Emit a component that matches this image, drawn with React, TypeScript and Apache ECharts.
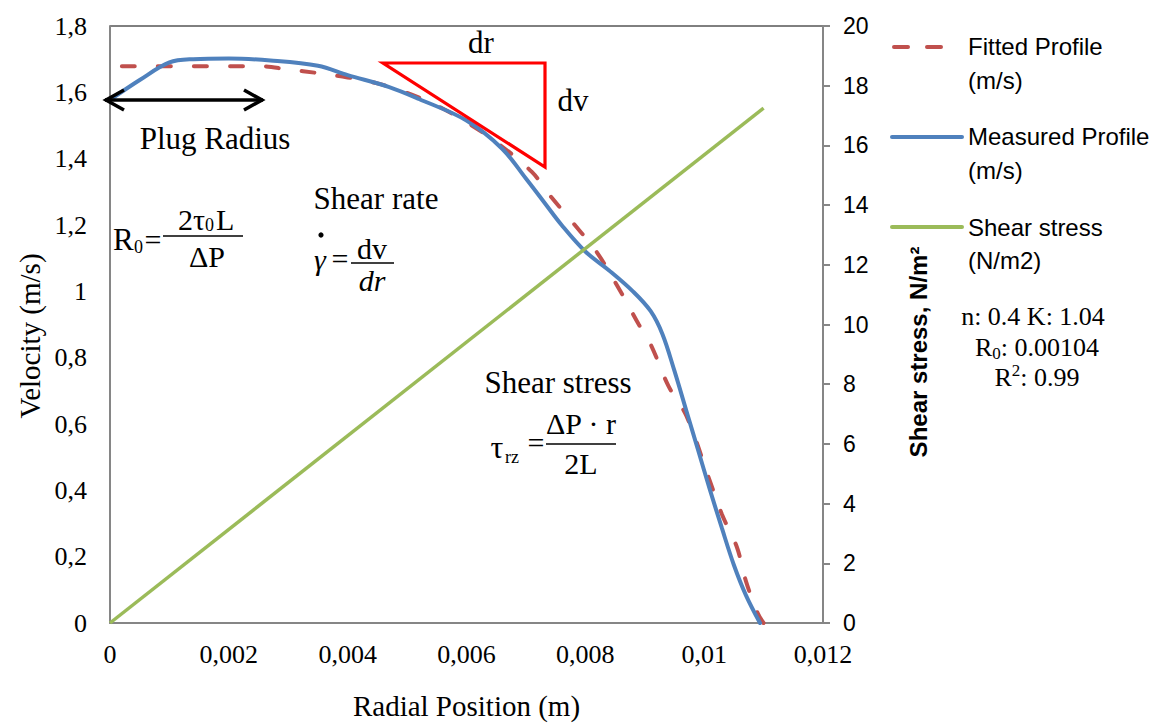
import React, { useEffect, useRef } from "react";
import * as echarts from "echarts";

// ---------- data ----------
const xTickLabels = ["0", "0,002", "0,004", "0,006", "0,008", "0,01", "0,012"];
const velTickLabels = ["0", "0,2", "0,4", "0,6", "0,8", "1", "1,2", "1,4", "1,6", "1,8"];

const fittedR = [0.0002, 0.0025, 0.003, 0.0035, 0.004, 0.0045, 0.005, 0.0055, 0.006, 0.0065, 0.0071, 0.0074, 0.0078, 0.0082, 0.0086, 0.0089, 0.0091, 0.0094, 0.0097, 0.0101, 0.0103, 0.01055, 0.0107, 0.0109, 0.011];
const fittedV = [1.679, 1.679, 1.669, 1.658, 1.645, 1.627, 1.598, 1.56, 1.51, 1.45, 1.36, 1.29, 1.205, 1.116, 0.997, 0.9, 0.84, 0.714, 0.625, 0.426, 0.327, 0.229, 0.128, 0.03, 0];

const measuredR = [0, 0.0005, 0.001, 0.0014, 0.002, 0.0027, 0.0035, 0.004, 0.0047, 0.0052, 0.006, 0.0066, 0.007, 0.0073, 0.0076, 0.008, 0.0084, 0.0088, 0.0091, 0.0093, 0.0095, 0.0097, 0.0099, 0.0101, 0.0103, 0.0105, 0.0107, 0.01094];
const measuredV = [1.577, 1.637, 1.69, 1.7, 1.702, 1.696, 1.68, 1.652, 1.616, 1.58, 1.515, 1.43, 1.34, 1.27, 1.2, 1.12, 1.063, 1.0, 0.94, 0.87, 0.76, 0.64, 0.52, 0.4, 0.285, 0.175, 0.085, 0];

const stressR = [0, 0.011];
const stressV = [0, 17.25];

const seriesNames = ["Fitted Profile (m/s)", "Measured Profile (m/s)", "Shear stress (N/m2)"];

const SERIF = "'Liberation Serif', 'Times New Roman', serif";
const SANS = "'Liberation Sans', Arial, sans-serif";

const RED = "#C0504D";
const BLUE = "#4F81BD";
const GREEN = "#9BBB59";
const AXIS = "#868686";

function txt(text: string, x: number, y: number, size: number, extra: any = {}) {
  return {
    type: "text",
    x,
    y,
    z: 100,
    rotation: extra.rotation || 0,
    style: {
      text,
      fontFamily: extra.fontFamily || SERIF,
      fontSize: size,
      fontStyle: extra.fontStyle || "normal",
      fontWeight: extra.fontWeight || "normal",
      fill: "#000",
      align: extra.align || "center",
      verticalAlign: "middle",
      ...(extra.rich ? { rich: extra.rich } : {}),
    },
  };
}

function hline(x1: number, x2: number, y: number, w = 1.5, color = "#000", extra: any = {}) {
  return {
    type: "line",
    z: 100,
    shape: { x1, y1: y, x2, y2: y },
    style: { stroke: color, lineWidth: w, ...extra },
  };
}

export default function App() {
  const ref = useRef<HTMLDivElement>(null);

  useEffect(() => {
    if (!ref.current) return;
    const chart = echarts.init(ref.current, undefined, { renderer: "svg" });

    const graphic: any[] = [
      // axis titles
      txt("Velocity (m/s)", 30, 336, 29, { rotation: Math.PI / 2 }),
      txt("Shear stress, N/m²", 918, 352, 24, { rotation: Math.PI / 2, fontFamily: SANS, fontWeight: "bold" }),
      // plug radius double arrow
      {
        type: "polyline",
        z: 100,
        shape: { points: [[105, 100], [263, 100]] },
        style: { stroke: "#000", lineWidth: 3.5, fill: null },
      },
      {
        type: "polyline",
        z: 100,
        shape: { points: [[124, 90], [106, 100], [124, 110]] },
        style: { stroke: "#000", lineWidth: 3.5, fill: null, lineJoin: "miter" },
      },
      {
        type: "polyline",
        z: 100,
        shape: { points: [[244, 90], [262, 100], [244, 110]] },
        style: { stroke: "#000", lineWidth: 3.5, fill: null, lineJoin: "miter" },
      },
      txt("Plug Radius", 215, 138, 31),
      // dr/dv triangle
      {
        type: "polygon",
        z: 100,
        shape: { points: [[383, 63], [545, 63], [545, 167]] },
        style: { stroke: "#FF0000", lineWidth: 3.2, fill: null },
      },
      txt("dr", 481, 42, 31),
      txt("dv", 573, 100, 31),
      // R0 formula
      txt("R", 113, 239, 31, { align: "left" }),
      txt("0", 134, 247, 18, { align: "left" }),
      txt("=", 153, 239, 30),
      hline(163, 243, 236, 1.5),
      txt("2τ", 178, 219, 30, { align: "left" }),
      txt("0", 205, 225, 18, { align: "left" }),
      txt("L", 216, 219, 30, { align: "left" }),
      txt("ΔP", 207, 256, 30),
      // shear rate
      txt("Shear rate", 376, 198, 31),
      { type: "circle", z: 100, shape: { cx: 321, cy: 235, r: 2.6 }, style: { fill: "#000" } },
      txt("γ", 320, 259, 30, { fontStyle: "italic" }),
      txt("=", 340, 258, 30),
      hline(351, 394, 263, 1.5),
      txt("dv", 372, 248, 30),
      txt("dr", 372, 280, 30, { fontStyle: "italic" }),
      // shear stress
      txt("Shear stress", 558, 382, 31),
      txt("τ", 497, 447, 32),
      txt("rz", 505, 457, 18, { align: "left" }),
      txt("=", 536, 442, 30),
      hline(546, 616, 444, 1.5),
      txt("ΔP · r", 581, 423, 30),
      txt("2L", 581, 463, 30),
      // legend
      hline(894, 946, 47, 4, RED, { lineDash: [14, 19], lineCap: "round" }),
      txt("Fitted Profile", 968, 46, 24, { align: "left", fontFamily: SANS }),
      txt("(m/s)", 968, 80, 24, { align: "left", fontFamily: SANS }),
      hline(892, 962, 137, 4, BLUE, { lineCap: "round" }),
      txt("Measured Profile", 968, 136, 24, { align: "left", fontFamily: SANS }),
      txt("(m/s)", 968, 170, 24, { align: "left", fontFamily: SANS }),
      hline(892, 962, 227, 4, GREEN, { lineCap: "round" }),
      txt("Shear stress", 968, 227, 24, { align: "left", fontFamily: SANS }),
      txt("(N/m2)", 968, 260, 24, { align: "left", fontFamily: SANS }),
      // fit stats
      txt("n: 0.4 K: 1.04", 1033, 316, 26),
      txt("{n|R}{s|0}{n|: 0.00104}", 1037, 347, 26, {
        rich: {
          n: { fontFamily: SERIF, fontSize: 26, lineHeight: 30, verticalAlign: "middle" },
          s: { fontFamily: SERIF, fontSize: 17, lineHeight: 30, verticalAlign: "bottom", padding: [8, 0, 0, 0] },
        },
      }),
      txt("{n|R}{p|2}{n|: 0.99}", 1037, 377, 26, {
        rich: {
          n: { fontFamily: SERIF, fontSize: 26, lineHeight: 30, verticalAlign: "middle" },
          p: { fontFamily: SERIF, fontSize: 17, lineHeight: 30, verticalAlign: "top", padding: [0, 0, 10, 0] },
        },
      }),
    ];

    const option: any = {
      animation: false,
      backgroundColor: "#fff",
      grid: {
        left: 110,
        top: 26,
        width: 713,
        height: 604,
        show: true,
        borderColor: "#000",
        borderWidth: 1,
      },
      xAxis: {
        type: "value",
        min: 0,
        max: 0.012,
        interval: 0.002,
        name: "Radial Position (m)",
        nameLocation: "middle",
        nameGap: 68,
        nameTextStyle: { fontFamily: SERIF, fontSize: 29, color: "#000" },
        axisLine: { show: true, onZero: false, lineStyle: { color: AXIS, width: 2 } },
        axisTick: { show: false },
        splitLine: { show: false },
        axisLabel: {
          fontFamily: SERIF,
          fontSize: 26,
          color: "#000",
          margin: 18,
          formatter: (v: number) => xTickLabels[Math.round(v / 0.002)] ?? "",
        },
      },
      yAxis: [
        {
          type: "value",
          min: 0,
          max: 1.8,
          interval: 0.2,
          axisLine: { show: true, onZero: false, lineStyle: { color: AXIS, width: 2 } },
          axisTick: { show: false },
          splitLine: { show: false },
          axisLabel: {
            fontFamily: SERIF,
            fontSize: 26,
            color: "#000",
            margin: 23,
            formatter: (v: number) => velTickLabels[Math.round(v / 0.2)] ?? "",
          },
        },
        {
          type: "value",
          min: 0,
          max: 20,
          interval: 2,
          position: "right",
          axisLine: { show: true, onZero: false, lineStyle: { color: AXIS, width: 2 } },
          axisTick: { show: true, inside: false, length: 7, lineStyle: { color: AXIS, width: 2 } },
          splitLine: { show: false },
          axisLabel: {
            fontFamily: SANS,
            fontSize: 23,
            color: "#000",
            margin: 20,
          },
        },
      ],
      series: [
        {
          name: seriesNames[0],
          type: "line",
          data: fittedR.map((r, i) => [r, fittedV[i]]),
          symbol: "none",
          smooth: 0.35,
          z: 2,
          lineStyle: { color: RED, width: 4, type: [13, 23], cap: "round" },
          itemStyle: { color: RED },
        },
        {
          name: seriesNames[1],
          type: "line",
          data: measuredR.map((r, i) => [r, measuredV[i]]),
          symbol: "none",
          smooth: 0.35,
          z: 3,
          lineStyle: { color: BLUE, width: 4, cap: "round" },
          itemStyle: { color: BLUE },
        },
        {
          name: seriesNames[2],
          type: "line",
          yAxisIndex: 1,
          data: stressR.map((r, i) => [r, stressV[i]]),
          symbol: "none",
          z: 4,
          lineStyle: { color: GREEN, width: 3.5 },
          itemStyle: { color: GREEN },
        },
      ],
      graphic,
    };

    chart.setOption(option);
    return () => chart.dispose();
  }, []);

  return (
    <div
      ref={ref}
      style={{ position: "fixed", left: 0, top: 0, width: 1156, height: 725, background: "#fff" }}
    />
  );
}
